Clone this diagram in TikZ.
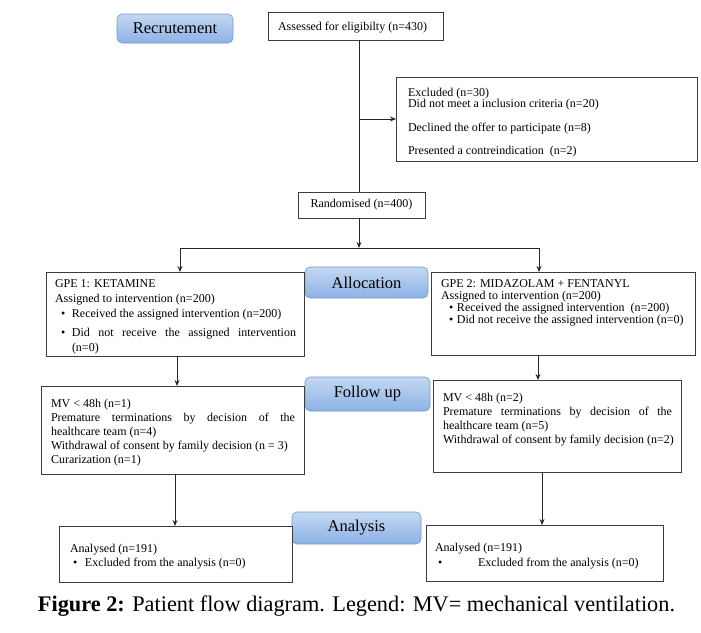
\documentclass[tikz,border=0pt]{standalone}
\usepackage{fontspec}
\setmainfont{Liberation Serif}
\usetikzlibrary{arrows.meta}
\definecolor{stagetop}{RGB}{196,216,242}
\definecolor{stagebot}{RGB}{140,178,228}
\definecolor{stageline}{RGB}{115,153,207}
\definecolor{boxline}{RGB}{60,60,60}
\newcommand{\bx}[1]{\fontsize{12}{#1}\selectfont}
\newcommand{\bitem}[3]{\par\noindent\hangindent=#1\hangafter=1\makebox[#1][l]{\hspace*{#2}\textbullet}#3}
\begin{document}
\begin{tikzpicture}[x=1pt,y=-1pt,
  box/.style={draw=boxline, line width=0.9pt, fill=white, anchor=north west, inner sep=0pt, outer sep=0pt},
  stage/.style={draw=stageline, line width=0.6pt, rounded corners=5pt, top color=stagetop, bottom color=stagebot, anchor=north west, inner sep=0pt, outer sep=0pt, font=\fontsize{16.5}{18}\selectfont},
  txt/.style={anchor=base west, inner sep=0pt, outer sep=0pt, font=\fontsize{12}{14}\selectfont},
  conn/.style={draw=black!85, line width=0.9pt},
  arr/.style={conn, -{Stealth[length=6pt,width=5pt]}}
]
\useasboundingbox (0,0) rectangle (701,632);

% stage labels
\node[stage, minimum width=116pt, minimum height=29pt] (recr) at (117,14) {Recrutement};
\node[stage, minimum width=123pt, minimum height=31pt] (alloc) at (305,267) {Allocation};
\node[stage, minimum width=125pt, minimum height=34pt] (follow) at (305,377) {Follow up};
\node[stage, minimum width=129pt, minimum height=32pt] (analysis) at (292,512) {Analysis};

% boxes
\node[box, minimum width=175pt, minimum height=28pt] (assess) at (268,12) {};
\node[box, minimum width=301pt, minimum height=84pt] (excl) at (396,77) {};
\node[box, minimum width=127pt, minimum height=26pt] (rand) at (298,192) {};
\node[box, minimum width=258pt, minimum height=84pt] (gpe1) at (46,272) {};
\node[box, minimum width=264pt, minimum height=83pt] (gpe2) at (431,272) {};
\node[box, minimum width=263pt, minimum height=88pt] (fu1) at (41,386) {};
\node[box, minimum width=248pt, minimum height=92pt] (fu2) at (433,380) {};
\node[box, minimum width=233pt, minimum height=56pt] (an1) at (59,526) {};
\node[box, minimum width=237pt, minimum height=56pt] (an2) at (426,525) {};

% texts
\node[txt] (assessT) at (278,30) {Assessed for eligibilty (n=430)};
\node[txt] (exclT) at (408,96) {\begin{minipage}[t]{285pt}\bx{11}Excluded (n=30)\\Did not meet a inclusion criteria (n=20)\\[12pt]Declined the offer to participate (n=8)\\[12pt]Presented a contreindication~~(n=2)\end{minipage}};
\node[anchor=center, inner sep=0pt, font=\fontsize{12}{14}\selectfont] (randT) at (rand.center) {Randomised (n=400)};
\node[txt] (gpe1T) at (55,287) {\begin{minipage}[t]{241pt}\bx{15}GPE 1: KETAMINE\\Assigned to intervention (n=200)%
\bitem{17pt}{6pt}{\mbox{Received the assigned intervention (n=200)}}%
\par\vspace{4pt}%
\bitem{17pt}{6pt}{Did not receive the assigned intervention\linebreak (n=0)}\end{minipage}};
\node[txt] (gpe2T) at (441,287) {\begin{minipage}[t]{250pt}\bx{12}GPE 2: MIDAZOLAM + FENTANYL\\Assigned to intervention (n=200)%
\bitem{16pt}{8pt}{\mbox{Received the assigned intervention~~(n=200)}}%
\bitem{16pt}{8pt}{\mbox{Did not receive the assigned intervention (n=0)}}\end{minipage}};
\node[txt] (fu1T) at (51,407) {\begin{minipage}[t]{244pt}\bx{14}\mbox{MV < 48h (n=1)}\\Premature terminations by decision of the\linebreak healthcare team (n=4)\\\mbox{Withdrawal of consent by family decision (n = 3)}\\\mbox{Curarization (n=1)}\end{minipage}};
\node[txt] (fu2T) at (443,401) {\begin{minipage}[t]{229pt}\bx{14}\mbox{MV < 48h (n=2)}\\Premature terminations by decision of the\linebreak healthcare team (n=5)\\\mbox{Withdrawal of consent by family decision (n=2)}\end{minipage}};
\node[txt] (an1T) at (70,552) {\begin{minipage}[t]{215pt}\bx{14}Analysed (n=191)%
\bitem{15pt}{3pt}{\mbox{Excluded from the analysis (n=0)}}\end{minipage}};
\node[txt] (an2T) at (435,551) {\begin{minipage}[t]{220pt}\bx{15}Analysed (n=191)%
\bitem{43pt}{3pt}{\mbox{Excluded from the analysis (n=0)}}\end{minipage}};

% connectors
\coordinate (c0) at (359,0);
\coordinate (cL) at (180,0);
\coordinate (cR) at (539,0);
\coordinate (split) at (359,248);
\coordinate (d1) at (177,0);
\coordinate (d2) at (538,0);
\coordinate (e1) at (175,0);
\coordinate (e2) at (542,0);
\draw[conn] (assess.south -| c0) -- (rand.north -| c0);
\draw[arr] (excl.west -| c0) -- (excl.west);
\draw[arr] (rand.south -| c0) -- (split);
\draw[conn] (split -| cL) -- (split -| cR);
\draw[arr] (split -| cL) -- (gpe1.north -| cL);
\draw[arr] (split -| cR) -- (gpe2.north -| cR);
\draw[arr] (gpe1.south -| d1) -- (fu1.north -| d1);
\draw[arr] (gpe2.south -| d2) -- (fu2.north -| d2);
\draw[arr] (fu1.south -| e1) -- (an1.north -| e1);
\draw[arr] (fu2.south -| e2) -- (an2.north -| e2);

% caption
\node[anchor=base, inner sep=0pt, font=\fontsize{22.3}{24}\selectfont] (cap) at (356.5,611) {\textbf{Figure 2:} Patient flow diagram. Legend: MV= mechanical ventilation.};
\end{tikzpicture}
\end{document}
